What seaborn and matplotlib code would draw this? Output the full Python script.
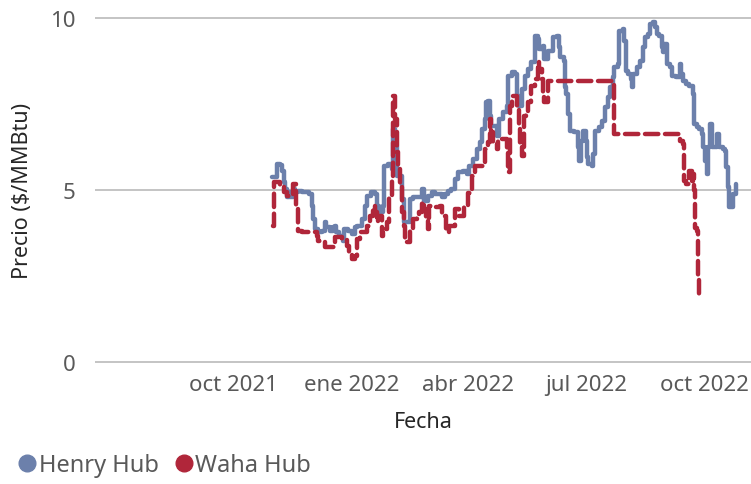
import pandas as pd
import matplotlib
matplotlib.use("Agg")
import matplotlib.pyplot as plt
from matplotlib.lines import Line2D
import seaborn as sns

# Henry Hub daily spot
henry_dates = [
    "2021-10-31", "2021-11-04", "2021-11-06", "2021-11-08", "2021-11-09", "2021-11-10",
    "2021-11-12", "2021-11-13", "2021-11-14", "2021-11-16", "2021-11-18", "2021-11-20",
    "2021-11-23", "2021-11-27", "2021-11-29", "2021-12-01", "2021-12-02", "2021-12-03",
    "2021-12-06", "2021-12-09", "2021-12-11", "2021-12-12", "2021-12-15", "2021-12-17",
    "2021-12-19", "2021-12-20", "2021-12-22", "2021-12-25", "2021-12-26", "2021-12-29",
    "2022-01-01", "2022-01-03", "2022-01-05", "2022-01-09", "2022-01-11", "2022-01-13",
    "2022-01-16", "2022-01-19", "2022-01-20", "2022-01-22", "2022-01-25", "2022-01-26",
    "2022-01-29", "2022-02-01", "2022-02-02", "2022-02-03", "2022-02-05", "2022-02-07",
    "2022-02-09", "2022-02-10", "2022-02-13", "2022-02-15", "2022-02-17", "2022-02-21",
    "2022-02-24", "2022-02-26", "2022-03-01", "2022-03-04", "2022-03-06", "2022-03-09",
    "2022-03-12", "2022-03-14", "2022-03-16", "2022-03-19", "2022-03-22", "2022-03-24",
    "2022-03-28", "2022-03-31", "2022-04-02", "2022-04-05", "2022-04-08", "2022-04-10",
    "2022-04-12", "2022-04-14", "2022-04-15", "2022-04-16", "2022-04-18", "2022-04-19",
    "2022-04-22", "2022-04-23", "2022-04-25", "2022-04-28", "2022-05-01", "2022-05-02",
    "2022-05-05", "2022-05-07", "2022-05-09", "2022-05-10", "2022-05-13", "2022-05-15",
    "2022-05-17", "2022-05-20", "2022-05-23", "2022-05-25", "2022-05-26", "2022-05-29",
    "2022-05-30", "2022-06-02", "2022-06-06", "2022-06-09", "2022-06-10", "2022-06-11",
    "2022-06-14", "2022-06-15", "2022-06-16", "2022-06-17", "2022-06-19", "2022-06-22",
    "2022-06-25", "2022-06-26", "2022-06-27", "2022-06-29", "2022-07-01", "2022-07-02",
    "2022-07-03", "2022-07-06", "2022-07-07", "2022-07-08", "2022-07-11", "2022-07-14",
    "2022-07-16", "2022-07-18", "2022-07-20", "2022-07-22", "2022-07-23", "2022-07-26",
    "2022-07-27", "2022-07-30", "2022-07-31", "2022-08-01", "2022-08-03", "2022-08-05",
    "2022-08-06", "2022-08-07", "2022-08-10", "2022-08-12", "2022-08-14", "2022-08-16",
    "2022-08-18", "2022-08-20", "2022-08-22", "2022-08-24", "2022-08-25", "2022-08-27",
    "2022-08-29", "2022-08-30", "2022-08-31", "2022-09-02", "2022-09-04", "2022-09-06",
    "2022-09-09", "2022-09-12", "2022-09-13", "2022-09-14", "2022-09-17", "2022-09-19",
    "2022-09-22", "2022-09-23", "2022-09-25", "2022-09-27", "2022-09-29", "2022-09-30",
    "2022-10-01", "2022-10-03", "2022-10-04", "2022-10-05", "2022-10-07", "2022-10-09",
    "2022-10-11", "2022-10-12", "2022-10-15", "2022-10-17", "2022-10-18", "2022-10-19",
    "2022-10-20", "2022-10-22", "2022-10-23", "2022-10-25",
]
henry_values = [
    5.38, 5.76, 5.73, 5.55, 5.23, 5.03,
    4.80, 4.94, 4.80, 5.03, 4.94, 4.97,
    4.94, 4.94, 4.88, 4.53, 4.16, 3.87,
    3.78, 3.81, 4.07, 3.92, 3.81, 3.92,
    3.95, 3.78, 3.66, 3.52, 3.87, 3.81,
    3.72, 3.92, 3.95, 4.16, 4.53, 4.83,
    4.94, 4.88, 4.53, 4.36, 4.53, 5.70,
    5.76, 5.61, 6.77, 6.28, 5.41, 5.41,
    4.74, 4.07, 4.07, 4.74, 4.80, 4.80,
    5.03, 4.68, 4.83, 4.94, 4.88, 4.88,
    4.80, 4.88, 4.97, 5.03, 5.32, 5.52,
    5.55, 5.47, 5.70, 5.90, 6.19, 6.40,
    6.77, 7.06, 7.56, 7.59, 7.15, 6.86,
    6.86, 6.57, 7.06, 7.27, 7.44, 8.31,
    8.43, 8.37, 7.73, 7.44, 7.94, 8.31,
    8.52, 8.72, 9.48, 9.39, 9.10, 9.19,
    8.81, 9.04, 9.45, 9.48, 9.16, 8.87,
    8.75, 8.00, 7.79, 7.21, 6.72, 6.69,
    6.25, 5.84, 6.42, 6.72, 6.42, 5.96,
    5.76, 5.70, 6.05, 6.72, 6.83, 7.01,
    7.41, 7.70, 8.00, 8.28, 8.58, 8.66,
    9.62, 9.68, 9.33, 8.46, 8.37, 8.23,
    8.00, 8.37, 8.58, 8.75, 9.16, 9.45,
    9.53, 9.83, 9.88, 9.74, 9.53, 9.48,
    9.16, 9.01, 9.24, 8.66, 8.58, 8.31,
    8.28, 8.66, 8.37, 8.17, 8.08, 8.02,
    7.79, 6.92, 6.83, 6.77, 6.63, 6.25,
    5.84, 5.47, 6.25, 6.92, 6.25, 6.25,
    6.63, 6.25, 6.19, 6.13, 5.67, 5.09,
    4.51, 4.51, 4.88, 5.17,
]

# Waha Hub daily spot
waha_dates = [
    "2021-11-01", "2021-11-02", "2021-11-05", "2021-11-06", "2021-11-09", "2021-11-12",
    "2021-11-16", "2021-11-18", "2021-11-19", "2021-11-20", "2021-11-23", "2021-12-01",
    "2021-12-05", "2021-12-06", "2021-12-09", "2021-12-11", "2021-12-16", "2021-12-19",
    "2021-12-24", "2021-12-28", "2021-12-30", "2022-01-01", "2022-01-03", "2022-01-05",
    "2022-01-07", "2022-01-11", "2022-01-13", "2022-01-15", "2022-01-17", "2022-01-19",
    "2022-01-20", "2022-01-21", "2022-01-24", "2022-01-25", "2022-01-28", "2022-01-30",
    "2022-02-01", "2022-02-02", "2022-02-03", "2022-02-05", "2022-02-06", "2022-02-07",
    "2022-02-09", "2022-02-10", "2022-02-11", "2022-02-13", "2022-02-15", "2022-02-17",
    "2022-02-20", "2022-02-22", "2022-02-24", "2022-02-26", "2022-02-27", "2022-03-01",
    "2022-03-02", "2022-03-05", "2022-03-10", "2022-03-12", "2022-03-15", "2022-03-17",
    "2022-03-20", "2022-03-22", "2022-03-25", "2022-03-29", "2022-04-01", "2022-04-04",
    "2022-04-06", "2022-04-13", "2022-04-14", "2022-04-16", "2022-04-18", "2022-04-19",
    "2022-04-20", "2022-04-23", "2022-04-24", "2022-04-29", "2022-05-01", "2022-05-02",
    "2022-05-03", "2022-05-05", "2022-05-09", "2022-05-10", "2022-05-11", "2022-05-13",
    "2022-05-14", "2022-05-16", "2022-05-17", "2022-05-20", "2022-05-23", "2022-05-25",
    "2022-05-26", "2022-05-28", "2022-05-29", "2022-05-30", "2022-06-02", "2022-07-22",
    "2022-07-23", "2022-09-09", "2022-09-12", "2022-09-14", "2022-09-15", "2022-09-17",
    "2022-09-19", "2022-09-21", "2022-09-22", "2022-09-23", "2022-09-24", "2022-09-25",
    "2022-09-26", "2022-09-27",
]
waha_values = [
    3.95, 5.23, 5.23, 5.12, 4.94, 4.83,
    5.17, 5.17, 4.53, 3.81, 3.78, 3.78,
    3.66, 3.52, 3.49, 3.34, 3.34, 3.63,
    3.58, 3.37, 3.20, 2.99, 3.08, 3.58,
    3.78, 3.78, 3.95, 4.24, 4.53, 4.36,
    4.07, 4.24, 3.66, 3.87, 4.07, 4.83,
    5.32, 7.73, 7.06, 6.10, 5.70, 5.12,
    4.36, 3.95, 3.49, 3.49, 3.87, 4.16,
    4.24, 4.36, 4.65, 4.45, 4.16, 3.87,
    4.53, 4.51, 4.53, 4.24, 3.78, 3.95,
    3.95, 4.45, 4.24, 4.50, 4.90, 5.40,
    5.70, 5.80, 6.19, 6.40, 7.06, 6.69,
    6.40, 6.19, 6.48, 6.48, 6.10, 5.52,
    7.44, 7.73, 7.44, 6.86, 6.28, 5.99,
    7.15, 7.27, 7.56, 8.02, 8.23, 8.72,
    8.52, 8.23, 7.73, 7.56, 8.17, 8.17,
    6.63, 6.63, 6.42, 6.34, 5.26, 5.17,
    5.55, 5.26, 5.45, 5.00, 3.90, 3.80,
    2.40, 1.80,
]

tick_dates = ["2021-10-01", "2022-01-01", "2022-04-01", "2022-07-01", "2022-10-01"]
tick_labels = ["oct 2021", "ene 2022", "abr 2022", "jul 2022", "oct 2022"]
y_ticks = [0, 5, 10]

series_names = ["Henry Hub", "Waha Hub"]
colors = {"Henry Hub": "#6c80ab", "Waha Hub": "#b0263a"}

df = pd.concat([
    pd.DataFrame({"Fecha": pd.to_datetime(henry_dates), "Precio": henry_values, "Hub": "Henry Hub"}),
    pd.DataFrame({"Fecha": pd.to_datetime(waha_dates), "Precio": waha_values, "Hub": "Waha Hub"}),
], ignore_index=True)

sns.set_theme(style="white")
plt.rcParams["font.family"] = ["Noto Sans", "DejaVu Sans"]

fig = plt.figure(figsize=(7.51, 4.85), dpi=100)
ax = fig.add_axes([0.1265, 0.2446, 0.8735, 0.7233])

sns.lineplot(data=df, x="Fecha", y="Precio", hue="Hub", style="Hub",
             palette=colors, dashes={"Henry Hub": "", "Waha Hub": (3, 1.5)},
             linewidth=3.2, drawstyle="steps-post", legend=False, ax=ax,
             solid_joinstyle="round", solid_capstyle="round", dash_capstyle="round")

ax.set_xlim(pd.Timestamp("2021-06-16"), pd.Timestamp("2022-11-06"))
ax.set_ylim(-0.1, 10.1)
ax.set_xticks(pd.to_datetime(tick_dates))
ax.set_xticklabels(tick_labels)
ax.set_yticks(y_ticks)
ax.yaxis.grid(True, color="#c4c4c4", linewidth=1.4)
ax.xaxis.grid(False)
for s in ax.spines.values():
    s.set_visible(False)
ax.tick_params(axis="y", length=0, pad=14, labelsize=16, labelcolor="#595959")
ax.tick_params(axis="x", length=0, pad=6, labelsize=16, labelcolor="#595959")

ax.set_xlabel("Fecha", fontsize=15.5, color="#262626")
ax.set_ylabel("Precio ($/MMBtu)", fontsize=15.5, color="#262626")
ax.xaxis.set_label_coords(0.5, -0.13)
ax.yaxis.set_label_coords(-0.095, 0.5)

handles = [Line2D([], [], marker="o", linestyle="none", markersize=12,
                  markerfacecolor=colors[n], markeredgecolor=colors[n]) for n in series_names]
fig.legend(handles, series_names, loc="lower left", bbox_to_anchor=(-0.008, -0.03),
           ncol=2, frameon=False, fontsize=17, handletextpad=0.0,
           columnspacing=0.55, handlelength=1.0, labelcolor="#595959")

fig.savefig("out.png", dpi=100)
